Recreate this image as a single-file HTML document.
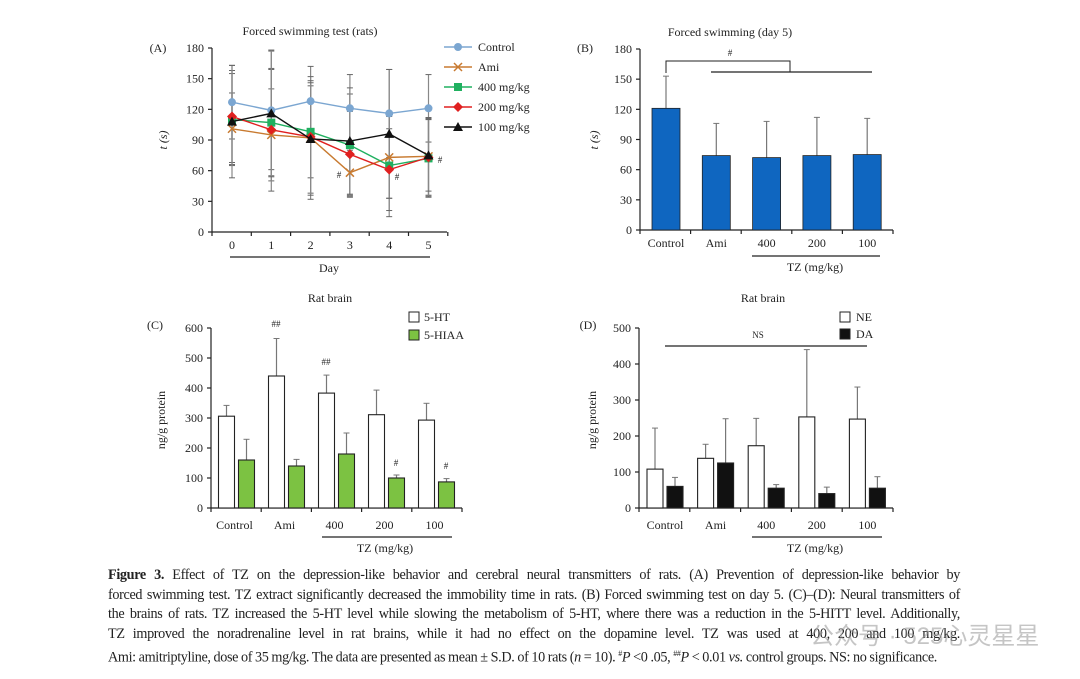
<!DOCTYPE html>
<html><head><meta charset="utf-8"><style>
body{margin:0;background:#fff;width:1080px;height:679px;overflow:hidden;position:relative;font-family:"Liberation Serif",serif}
svg{position:absolute;left:0;top:0}
#cap{position:absolute;left:108px;top:566px;width:852px;font-size:14.2px;line-height:19.5px;color:#222;letter-spacing:-0.35px;word-spacing:-0.3px}
#cap div{text-align:justify;text-align-last:justify;white-space:nowrap;overflow:visible}
#cap div.last{text-align-last:left}
#wm{position:absolute;left:810px;top:616px;font-size:24px;color:rgba(150,150,150,0.55);font-family:"Liberation Sans","Noto Sans CJK SC",sans-serif}
</style></head><body>
<svg id="s" width="1080" height="679" font-family="Liberation Serif, serif" fill="#222"></svg>
<div id="cap">
<div><b>Figure 3.</b> Effect of TZ on the depression-like behavior and cerebral neural transmitters of rats. (A) Prevention of depression-like behavior by</div>
<div>forced swimming test. TZ extract significantly decreased the immobility time in rats. (B) Forced swimming test on day 5. (C)–(D): Neural transmitters of</div>
<div>the brains of rats. TZ increased the 5-HT level while slowing the metabolism of 5-HT, where there was a reduction in the 5-HITT level. Additionally,</div>
<div>TZ improved the noradrenaline level in rat brains, while it had no effect on the dopamine level. TZ was used at 400, 200 and 100 mg/kg.</div>
<div class="last">Ami: amitriptyline, dose of 35 mg/kg. The data are presented as mean ± S.D. of 10 rats (<i>n</i> = 10). <sup style="font-size:8px">#</sup><i>P</i> &lt;0 .05, <sup style="font-size:8px">##</sup><i>P</i> &lt; 0.01 <i>vs.</i> control groups. NS: no significance.</div>
</div>
<div id="wm">公众号 · 525心灵星星</div>
<script>
// Panel A data
const daysA=[0,1,2,3,4,5];
const ctrlA=[127,119,128,121,116,121];
const amiA=[101,95,92,58,73,74];
const d400A=[110,107,98,85,65,72];
const d200A=[113,100,93,76,61,73];
const d100A=[108,116,91,89,96,75];
const ctrlSD=[36,58,34,33,43,33];
const amiSD=[35,45,60,22,40,38];
const d400SD=[45,52,45,50,50,38];
const d200SD=[45,60,55,42,40,38];
const d100SD=[55,62,55,52,63,35];
const ticksA=[0,30,60,90,120,150,180];
// Panel B
const catsB=["Control","Ami","400","200","100"];
const valsB=[121,74,72,74,75];
const errB=[32,32,36,38,36];
// Panel C
const ht5=[306,440,383,311,293];
const ht5Err=[36,125,60,82,56];
const hiaa=[160,140,180,100,87];
const hiaaErr=[69,22,70,10,11];
const ticksC=[0,100,200,300,400,500,600];
// Panel D
const ne=[108,138,173,253,247];
const neErr=[114,39,76,187,89];
const da=[60,125,55,40,55];
const daErr=[25,123,10,18,32];
const ticksD=[0,100,200,300,400,500];

const S=document.getElementById('s');const NS='http://www.w3.org/2000/svg';
function el(t,a,name,txt){const e=document.createElementNS(NS,t);for(const k in a)e.setAttribute(k,a[k]);


if(txt!==undefined)e.textContent=txt;S.appendChild(e);return e;}
function line(x1,y1,x2,y2,name,c,w){return el('line',{x1,y1,x2,y2,stroke:c||'#222','stroke-width':w||1.2},name);}
function txt(x,y,s,name,o){return el('text',Object.assign({x,y,'font-size':12,'text-anchor':'middle'},o||{}),name,s);}
function yAxis(x0,y0,y1,max,ticks,name){const f=v=>y0-(v/max)*(y0-y1);
line(x0,y0,x0,y1,name+'-y-axis');
ticks.forEach(t=>{line(x0-4,f(t),x0,f(t),name+'-y-tick');txt(x0-8,f(t)+4,t,name+'-y-tick-label',{'text-anchor':'end'});});return f;}

// ---- Panel A
{const y=yAxis(212,232,48,180,ticksA,'panel-a');const x=d=>232+d*39.3;
line(212,232,447,232,'panel-a-x-axis');
[0,1,2,3,4,5,6].forEach(i=>line(212+i*39.3,232,212+i*39.3,236,'panel-a-x-tick'));
daysA.forEach(d=>txt(x(d),249,d,'panel-a-x-label'));
line(230,257,430,257,'panel-a-day-bracket');
txt(329,272,'Day','panel-a-x-title');
txt(310,35,'Forced swimming test (rats)','panel-a-title');
txt(158,52,'(A)','panel-a-label');
el('text',{x:167,y:140,'font-size':12,'text-anchor':'middle','font-style':'italic',transform:'rotate(-90 167 140)'},'panel-a-y-title','t (s)');
const series=[[ctrlA,ctrlSD,'#7ba6d1','circle','Control','control'],[amiA,amiSD,'#c87a30','x','Ami','ami'],[d400A,d400SD,'#20b060','square','400 mg/kg','400'],[d200A,d200SD,'#e02020','diamond','200 mg/kg','200'],[d100A,d100SD,'#111','tri','100 mg/kg','100']];
series.forEach(([v,sd])=>daysA.forEach((d,i)=>{const X=x(d);line(X,y(v[i]-sd[i]),X,y(v[i]+sd[i]),'panel-a-error-bar','#888',1.2);line(X-3,y(v[i]+sd[i]),X+3,y(v[i]+sd[i]),'panel-a-error-cap','#666',1);line(X-3,y(v[i]-sd[i]),X+3,y(v[i]-sd[i]),'panel-a-error-cap','#666',1);}));
function mark(X,Y,t,c,name){if(t==='circle')el('circle',{cx:X,cy:Y,r:4,fill:c},name);
else if(t==='square')el('rect',{x:X-4,y:Y-4,width:8,height:8,fill:c},name);
else if(t==='diamond')el('polygon',{points:`${X},${Y-5} ${X+5},${Y} ${X},${Y+5} ${X-5},${Y}`,fill:c},name);
else if(t==='tri')el('polygon',{points:`${X},${Y-5} ${X+5},${Y+4} ${X-5},${Y+4}`,fill:c},name);
else{line(X-4,Y-4,X+4,Y+4,name,c,1.5);line(X-4,Y+4,X+4,Y-4,name,c,1.5);}}
series.forEach(([v,sd,c,t,lab,k],si)=>{el('polyline',{points:v.map((vv,i)=>x(daysA[i])+','+y(vv)).join(' '),fill:'none',stroke:c,'stroke-width':1.4},'panel-a-line-'+k);
v.forEach((vv,i)=>mark(x(daysA[i]),y(vv),t,c,'panel-a-point-'+k));
const ly=47+si*20;line(444,ly,472,ly,'legend-line-'+k,c,1.4);mark(458,ly,t,c,'legend-marker-'+k);txt(478,ly+4,lab,'legend-label-'+k,{'text-anchor':'start'});});
txt(339,178,'#','panel-a-sig',{'font-size':9});txt(397,180,'#','panel-a-sig',{'font-size':9});txt(440,163,'#','panel-a-sig',{'font-size':9});}

// ---- Panel B
{const y=yAxis(640,230,49,180,ticksA,'panel-b');line(640,230,893,230,'panel-b-x-axis');
const cx=i=>666+i*50.3;
[0,1,2,3,4,5].forEach(i=>line(640+i*50.6,230,640+i*50.6,234,'panel-b-x-tick'));
catsB.forEach((c,i)=>{const Y=y(valsB[i]+errB[i]);line(cx(i),Y,cx(i),y(valsB[i]),'panel-b-error-bar','#777',1.2);line(cx(i)-3,Y,cx(i)+3,Y,'panel-b-error-cap','#777',1);
el('rect',{x:cx(i)-14,y:y(valsB[i]),width:28,height:230-y(valsB[i]),fill:'#0f66c0',stroke:'#222','stroke-width':0.8},'panel-b-bar-'+c);
txt(cx(i),247,c,'panel-b-x-label');});
line(752,256,880,256,'panel-b-tz-bracket');txt(815,271,'TZ (mg/kg)','panel-b-x-title');
txt(730,36,'Forced swimming (day 5)','panel-b-title');txt(585,52,'(B)','panel-b-label');
el('text',{x:598,y:140,'font-size':12,'text-anchor':'middle','font-style':'italic',transform:'rotate(-90 598 140)'},'panel-b-y-title','t (s)');
el('polyline',{points:'666,73 666,61 790,61 790,72',fill:'none',stroke:'#222','stroke-width':1},'panel-b-sig-bracket');
line(711,72,872,72,'panel-b-sig-line');txt(730,56,'#','panel-b-sig',{'font-size':9});}

// ---- Panel C
{const y=yAxis(211,508,328,600,ticksC,'panel-c');line(211,508,462,508,'panel-c-x-axis');
const cx=i=>236.5+i*50;
[0,1,2,3,4,5].forEach(i=>line(211+i*50.2,508,211+i*50.2,512,'panel-c-x-tick'));
catsB.forEach((c,i)=>{
[[ht5,ht5Err,'#fff',-18,'5ht'],[hiaa,hiaaErr,'#7cc242',2,'5hiaa']].forEach(([v,e,f,dx,k])=>{const X=cx(i)+dx+8;
line(X,y(v[i]+e[i]),X,y(v[i]),'panel-c-error-bar','#777',1.2);line(X-3,y(v[i]+e[i]),X+3,y(v[i]+e[i]),'panel-c-error-cap','#777',1);
el('rect',{x:cx(i)+dx,y:y(v[i]),width:16,height:508-y(v[i]),fill:f,stroke:'#222','stroke-width':1.1},'panel-c-bar-'+k+'-'+c);});
txt(cx(i)-2,529,c,'panel-c-x-label');});
line(322,537,452,537,'panel-c-tz-bracket');txt(385,552,'TZ (mg/kg)','panel-c-x-title');
txt(330,302,'Rat brain','panel-c-title');txt(155,329,'(C)','panel-c-label');
el('text',{x:165,y:420,'font-size':12,'text-anchor':'middle',transform:'rotate(-90 165 420)'},'panel-c-y-title','ng/g protein');
el('rect',{x:409,y:312,width:10,height:10,fill:'#fff',stroke:'#222'},'legend-5ht-swatch');txt(424,321,'5-HT','legend-5ht-label',{'text-anchor':'start'});
el('rect',{x:409,y:330,width:10,height:10,fill:'#7cc242',stroke:'#222'},'legend-5hiaa-swatch');txt(424,339,'5-HIAA','legend-5hiaa-label',{'text-anchor':'start'});
txt(276,327,'##','panel-c-sig',{'font-size':9});txt(326,365,'##','panel-c-sig',{'font-size':9});txt(396,466,'#','panel-c-sig',{'font-size':9});txt(446,469,'#','panel-c-sig',{'font-size':9});}

// ---- Panel D
{const y=yAxis(639,508,328,500,ticksD,'panel-d');line(639,508,893,508,'panel-d-x-axis');
const cx=i=>665+i*50.6;
[0,1,2,3,4,5].forEach(i=>line(639+i*50.8,508,639+i*50.8,512,'panel-d-x-tick'));
catsB.forEach((c,i)=>{
[[ne,neErr,'#fff',-18,'ne'],[da,daErr,'#111',2,'da']].forEach(([v,e,f,dx,k])=>{const X=cx(i)+dx+8;
line(X,y(v[i]+e[i]),X,y(v[i]),'panel-d-error-bar','#777',1.2);line(X-3,y(v[i]+e[i]),X+3,y(v[i]+e[i]),'panel-d-error-cap','#777',1);
el('rect',{x:cx(i)+dx,y:y(v[i]),width:16,height:508-y(v[i]),fill:f,stroke:'#222','stroke-width':1.1},'panel-d-bar-'+k+'-'+c);});
txt(cx(i),529,c,'panel-d-x-label');});
line(752,537,882,537,'panel-d-tz-bracket');txt(815,552,'TZ (mg/kg)','panel-d-x-title');
txt(763,302,'Rat brain','panel-d-title');txt(588,329,'(D)','panel-d-label');
el('text',{x:596,y:420,'font-size':12,'text-anchor':'middle',transform:'rotate(-90 596 420)'},'panel-d-y-title','ng/g protein');
line(665,346,867,346,'panel-d-ns-line');txt(758,338,'NS','panel-d-ns',{'font-size':9});
el('rect',{x:840,y:312,width:10,height:10,fill:'#fff',stroke:'#222'},'legend-ne-swatch');txt(856,321,'NE','legend-ne-label',{'text-anchor':'start'});
el('rect',{x:840,y:329,width:10,height:10,fill:'#111',stroke:'#222'},'legend-da-swatch');txt(856,338,'DA','legend-da-label',{'text-anchor':'start'});}
</script>
</body></html>
